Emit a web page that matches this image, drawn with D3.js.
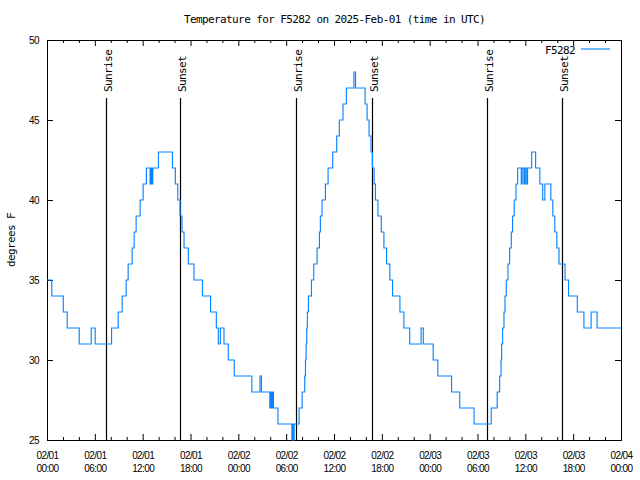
<!DOCTYPE html>
<html><head><meta charset="utf-8">
<script src="https://cdn.jsdelivr.net/npm/d3@7"></script>
<style>body{margin:0;background:#fff}svg{display:block}</style>
</head><body>
<svg id="chart" width="640" height="480"></svg>
<script>
// ---- data (hours since 2025-02-01 00:00 UTC, temperature in °F; value holds until next reading) ----
const hours = [0, 0.6, 2.04, 2.54, 4.04, 5.55, 6.05, 8.1, 8.93, 9.43,
  9.93, 10.18, 10.68, 10.93, 11.18, 11.68, 12.06, 12.47, 12.93, 13.03,
  13.14, 13.27, 13.98, 15.73, 16.1, 16.4, 16.69, 16.94, 17.19, 17.73,
  18.44, 19.5, 20.52, 21.24, 21.49, 21.74, 22.2, 22.74, 23.49, 25.7,
  26.72, 26.9, 27.95, 28.08, 28.22, 28.3, 28.4, 28.97, 30.72, 30.82,
  30.9, 31.0, 31.62, 32.0, 32.33, 32.42, 32.5, 32.58, 32.66, 32.79,
  33.17, 33.46, 33.88, 34.17, 34.29, 34.5, 34.92, 35.26, 35.84, 36.34,
  36.67, 37.13, 37.55, 38.5, 38.7, 39.9, 40.15, 40.4, 40.64, 40.82,
  41.03, 41.2, 41.51, 41.93, 42.26, 42.6, 43.01, 43.35, 44.27, 44.77,
  45.5, 46.93, 47.2, 48.44, 49.02, 50.75, 51.77, 53.57, 55.72, 56.47,
  56.78, 56.95, 57.03, 57.15, 57.32, 57.45, 57.61, 57.82, 58.03, 58.24,
  58.4, 58.61, 58.83, 59.04, 59.49, 59.6, 59.82, 59.95, 60.11, 60.28,
  60.79, 61.29, 61.82, 62.18, 62.45, 63.2, 63.45, 63.7, 63.95, 64.22,
  64.98, 65.42, 66.52, 67.35, 68.25, 69.0, 72];
const temps = [35, 34, 33, 32, 31, 32, 31, 32, 33, 34,
  35, 36, 37, 38, 39, 40, 41, 42, 41, 42,
  41, 42, 43, 42, 41, 40, 39, 38, 37, 36,
  35, 34, 33, 32, 31, 32, 31, 30, 29, 28,
  29, 28, 27, 28, 27, 28, 27, 26, 25, 26,
  25, 26, 27, 28, 29, 30, 31, 32, 33, 34,
  35, 36, 37, 38, 39, 40, 41, 42, 43, 44,
  45, 46, 47, 48, 47, 46, 45, 44, 43, 42,
  41, 40, 39, 38, 37, 36, 35, 34, 33, 32,
  31, 32, 31, 30, 29, 28, 27, 26, 27, 28,
  29, 30, 31, 32, 33, 34, 35, 36, 37, 38,
  39, 40, 41, 42, 41, 42, 41, 42, 41, 42,
  43, 42, 41, 40, 41, 40, 39, 38, 37, 36,
  35, 34, 33, 32, 33, 32, 32];
const sunHours = [7.35, 16.68, 31.22, 40.71, 55.23, 64.62];
const sunLabels = ["Sunrise", "Sunset", "Sunrise", "Sunset", "Sunrise", "Sunset"];
const yTicks = [25, 30, 35, 40, 45, 50];
const xMajorHours = d3.range(0, 73, 6);
const xMinorHours = d3.range(0, 73, 2).filter(h => h % 6 !== 0);
const titleText = "Temperature for F5282 on 2025-Feb-01 (time in UTC)";
const seriesName = "F5282";
const yLabelText = "degrees F";
const startUTC = Date.UTC(2025, 1, 1);

// ---- layout ----
const svg = d3.select("#chart")
  .style("font-family", "'DejaVu Sans Mono', monospace")
  .style("font-size", "11px")
  .style("letter-spacing", "-0.6px");
const L = 47, R = 621, T = 40, B = 440;
const x = d3.scaleLinear().domain([0, 72]).range([L, R]);
const y = d3.scaleLinear().domain([25, 50]).range([B, T]);
const lineColor = "#0a84ff";

const fmtDate = d3.utcFormat("%m/%d"), fmtTime = d3.utcFormat("%H:%M");
const toDate = h => new Date(startUTC + h * 3600e3);

function clean(g) { g.select(".domain").remove(); g.selectAll("line").attr("stroke", "#000"); return g; }

// bottom axis: major + minor ticks, two-line labels
const bottom = svg.append("g").attr("transform", `translate(0,${B})`)
  .call(d3.axisBottom(x).tickValues(xMajorHours).tickSize(-6).tickPadding(0)
    .tickFormat(h => fmtDate(toDate(h))));
clean(bottom);
bottom.selectAll("text").each(function(h) {
  const t = d3.select(this).attr("dy", null).attr("y", null).attr("fill", "#000").text(null);
  t.append("tspan").attr("x", 0).attr("y", 18.5).text(fmtDate(toDate(h)));
  t.append("tspan").attr("x", 0).attr("y", 31.5).text(fmtTime(toDate(h)));
});
clean(svg.append("g").attr("transform", `translate(0,${B})`)
  .call(d3.axisBottom(x).tickValues(xMinorHours).tickSize(-3).tickFormat("")));
// top mirrored ticks
clean(svg.append("g").attr("transform", `translate(0,${T})`)
  .call(d3.axisTop(x).tickValues(xMajorHours).tickSize(-6).tickFormat("")));
clean(svg.append("g").attr("transform", `translate(0,${T})`)
  .call(d3.axisTop(x).tickValues(xMinorHours).tickSize(-3).tickFormat("")));
// left axis
const left = svg.append("g").attr("transform", `translate(${L},0)`)
  .call(d3.axisLeft(y).tickValues(yTicks).tickSize(-6).tickPadding(8).tickFormat(d3.format("d")));
clean(left);
left.selectAll("text").attr("fill", "#000");
// right mirrored ticks
clean(svg.append("g").attr("transform", `translate(${R},0)`)
  .call(d3.axisRight(y).tickValues(yTicks).tickSize(-6).tickFormat("")));

// border
svg.append("rect").attr("x", L + 0.5).attr("y", T + 0.5)
  .attr("width", R - L).attr("height", B - T)
  .attr("fill", "none").attr("stroke", "#000").attr("stroke-width", 1);

// sunrise / sunset markers
const sunTopFrac = 0.855;
const sunG = svg.append("g");
sunHours.forEach((h, i) => {
  const lx = Math.round(x(h)) + 0.5;
  const yTop = B - sunTopFrac * (B - T);
  sunG.append("line").attr("x1", lx).attr("x2", lx).attr("y1", B).attr("y2", yTop)
    .attr("stroke", "#000").attr("stroke-width", 1.2);
  sunG.append("text")
    .attr("transform", `translate(${lx + 1.5},${yTop - 6}) rotate(-90)`)
    .attr("dy", "0.35em").attr("text-anchor", "start").attr("fill", "#000")
    .text(sunLabels[i]);
});

// series
const series = hours.map((h, i) => [h, temps[i]]);
svg.append("path").datum(series)
  .attr("fill", "none").attr("stroke", lineColor).attr("stroke-width", 1.15)
  .attr("d", d3.line().x(d => x(d[0])).y(d => y(d[1])).curve(d3.curveStepAfter));

// title and axis label
svg.append("text").attr("x", (L + R) / 2 + 0.5).attr("y", 23).attr("text-anchor", "middle")
  .attr("fill", "#000").text(titleText);
svg.append("text").attr("transform", `translate(11,${(T + B) / 2}) rotate(-90)`)
  .attr("dy", "0.35em").attr("text-anchor", "middle").attr("fill", "#000").text(yLabelText);

// legend
const lg = svg.append("g");
lg.append("text").attr("x", 575).attr("y", 54).attr("text-anchor", "end").attr("fill", "#000").text(seriesName);
lg.append("line").attr("x1", 581).attr("x2", 610).attr("y1", 49).attr("y2", 49)
  .attr("stroke", lineColor).attr("stroke-width", 1.15);
</script>
</body></html>
